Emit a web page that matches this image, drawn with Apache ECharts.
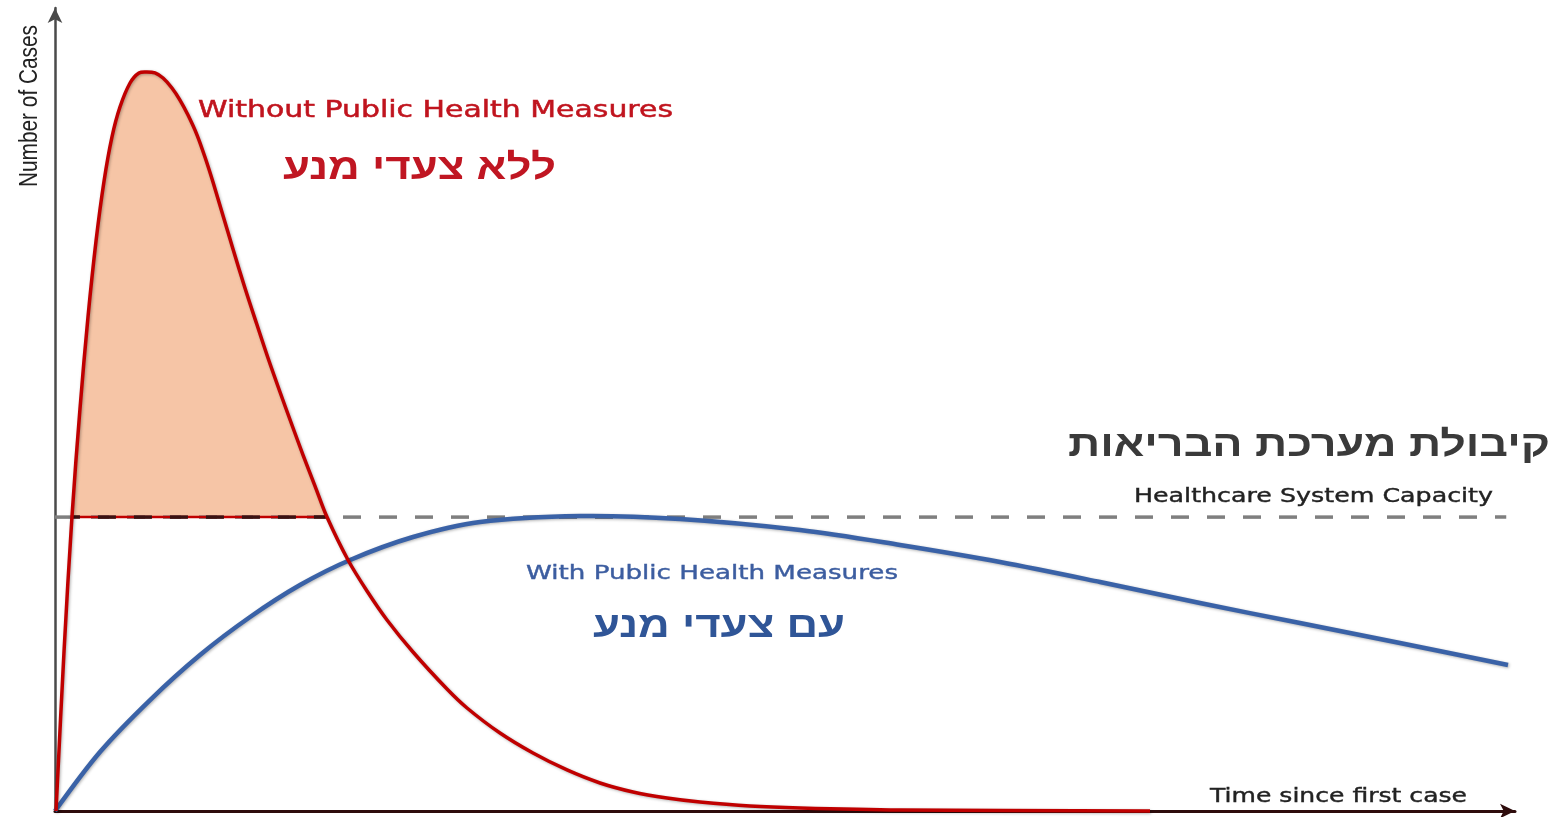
<!DOCTYPE html>
<html>
<head>
<meta charset="utf-8">
<script src="https://cdn.jsdelivr.net/npm/echarts@6/dist/echarts.min.js"></script>
<style>
  html, body { margin: 0; padding: 0; background: #fff; }
  #chart { width: 1555px; height: 817px; }
</style>
</head>
<body>
<div id="chart"></div>
<script>
// capacity level and curve values (time 0..100, cases 0..100)
var capacity = 36.6;
var capacityEnd = 99.4;

var timeRed  = [0.07, 0.62, 1.16, 1.71, 2.26, 2.81, 3.36, 3.90, 4.45, 5.14, 5.75, 6.30, 6.85, 7.40, 8.01, 8.56, 9.11, 9.73, 10.27, 10.82, 11.51, 12.19, 13.01, 13.84, 14.59, 15.41, 16.23, 16.99, 17.81, 18.63, 20.07, 21.37, 22.74, 24.52, 26.85, 28.22, 30.48, 32.74, 35.07, 37.33, 39.59, 41.92, 44.18, 47.60, 51.03, 57.88, 75.0];
var casesRed = [0, 19.93, 36.61, 50.06, 61.52, 70.98, 78.46, 83.93, 87.67, 90.66, 91.91, 92.03, 91.91, 91.28, 90.04, 88.54, 86.67, 84.18, 81.44, 78.33, 74.13, 69.99, 65.13, 60.52, 56.41, 52.18, 48.07, 44.33, 40.47, 36.61, 31.26, 27.40, 23.79, 19.80, 15.19, 12.83, 9.71, 7.22, 5.11, 3.49, 2.37, 1.62, 1.12, 0.62, 0.37, 0.12, 0];

var timeBlue  = [0, 3.08, 6.51, 9.93, 13.36, 16.78, 20.21, 24.52, 29.11, 35.96, 42.81, 51.03, 57.88, 64.73, 71.58, 78.42, 85.27, 92.12, 99.52];
var casesBlue = [0, 7.35, 13.82, 19.43, 24.16, 28.14, 31.26, 34.12, 35.99, 36.74, 36.36, 34.99, 33.13, 31.01, 28.52, 25.90, 23.41, 20.92, 18.18];

function pairs(xs, ys) {
    return xs.map(function (x, i) { return [x, ys[i]]; });
}

var redData = pairs(timeRed, casesRed);
var blueData = pairs(timeBlue, casesBlue);
// first and last red point at or above capacity -> peach fill between them
var overIdx = [];
casesRed.forEach(function (v, i) { if (v >= capacity) overIdx.push(i); });
var overFirst = overIdx[0];
var overLast = overIdx[overIdx.length - 1];

// cubic pieces through the points (catmull-rom like), points already in pixels
function controls(pts, t) {
    var n = pts.length, cin = [], cout = [];
    for (var i = 0; i < n; i++) {
        if (i === 0 || i === n - 1) { cin[i] = pts[i]; cout[i] = pts[i]; continue; }
        var p0 = pts[i - 1], p = pts[i], p1 = pts[i + 1];
        var d0 = Math.hypot(p[0] - p0[0], p[1] - p0[1]);
        var d1 = Math.hypot(p1[0] - p[0], p1[1] - p[1]);
        var vx = p1[0] - p0[0], vy = p1[1] - p0[1];
        var a = t * d0 / (d0 + d1), b = t * d1 / (d0 + d1);
        cin[i] = [p[0] - vx * a, p[1] - vy * a];
        cout[i] = [p[0] + vx * b, p[1] + vy * b];
    }
    return { cin: cin, cout: cout };
}
function curvePath(pts, from, to, cp) {
    var d = 'M' + pts[from][0] + ' ' + pts[from][1];
    for (var i = from; i < to; i++) {
        d += ' C' + cp.cout[i][0] + ' ' + cp.cout[i][1] + ' ' + cp.cin[i + 1][0] + ' ' + cp.cin[i + 1][1] + ' ' + pts[i + 1][0] + ' ' + pts[i + 1][1];
    }
    return d;
}

var shadow = { shadowColor: 'rgba(0,0,0,0.3)', shadowBlur: 3, shadowOffsetX: 1, shadowOffsetY: 1 };

function curveSeries(data, color, width, z) {
    return {
        type: 'custom', data: data, z: z, silent: true,
        renderItem: function (params, api) {
            if (params.dataIndex !== 0) return null;
            var pts = data.map(function (p) { return api.coord(p); });
            var cp = controls(pts, 0.33);
            return {
                type: 'path',
                shape: { pathData: curvePath(pts, 0, pts.length - 1, cp) },
                style: Object.assign({ fill: 'none', stroke: color, lineWidth: width, lineJoin: 'round' }, shadow)
            };
        }
    };
}

// text is stretched horizontally in the picture, so fit each label to its width
var measureCtx = document.createElement('canvas').getContext('2d');
function textWidth(text, font) {
    measureCtx.font = font;
    return measureCtx.measureText(text).width;
}
function fitText(text, font, left, right, y, color, stroke) {
    var w = textWidth(text, font);
    var style = { text: text, font: font, fill: color, align: 'left', verticalAlign: 'middle', textAlign: 'left', textVerticalAlign: 'middle' };
    if (stroke) { style.stroke = color; style.lineWidth = stroke; }
    return { type: 'text', x: left, y: y, z: 100, scaleX: (right - left) / w, style: style };
}

var latin = '"DejaVu Sans", Verdana, sans-serif';
var hebrew = '"Liberation Sans", "DejaVu Sans", sans-serif';
var yNameFont = '21px "Liberation Sans", Arial, sans-serif';
var yName = 'Number of Cases';

var myChart = echarts.init(document.getElementById('chart'));

var option = {
    backgroundColor: '#ffffff',
    animation: false,
    grid: { left: 55, right: 40, top: 8, bottom: 6, containLabel: false },
    xAxis: {
        type: 'value', min: 0, max: 100,
        axisLabel: { show: false }, axisTick: { show: false }, splitLine: { show: false },
        axisLine: {
            show: true, symbol: ['none', 'arrow'], symbolSize: [11, 15],
            lineStyle: { color: '#2e0c0c', width: 3 }
        }
    },
    yAxis: {
        type: 'value', min: 0, max: 100,
        axisLabel: { show: false }, axisTick: { show: false }, splitLine: { show: false },
        axisLine: {
            show: true, symbol: ['none', 'arrow'], symbolSize: [11, 15],
            lineStyle: { color: '#4a4a4a', width: 2.5 }
        }
    },
    series: [
        {   // peach overflow area between red curve and capacity
            type: 'custom', data: redData, z: 1, silent: true,
            renderItem: function (params, api) {
                if (params.dataIndex !== 0) return null;
                var pts = redData.map(function (p) { return api.coord(p); });
                var cp = controls(pts, 0.33);
                var d = curvePath(pts, overFirst, overLast, cp) + ' L' + pts[overFirst][0] + ' ' + pts[overFirst][1] + ' Z';
                return { type: 'path', shape: { pathData: d }, style: { fill: '#f6c5a6', stroke: 'none' } };
            }
        },
        {   // healthcare system capacity
            type: 'line', data: [[0, capacity], [capacityEnd, capacity]], symbol: 'none', z: 2,
            lineStyle: { color: '#7f7f7f', width: 3.5, type: [18, 18] }
        },
        {   // red base under the dashes inside the filled part
            type: 'line', data: [[timeRed[overFirst], capacity], [timeRed[overLast], capacity]], symbol: 'none', z: 3,
            lineStyle: { color: '#c00000', width: 2.5 }
        },
        {
            type: 'line', data: [[timeRed[overFirst], capacity], [timeRed[overLast], capacity]], symbol: 'none', z: 4,
            lineStyle: { color: '#3a1212', width: 3.5, type: [18, 18], dashOffset: 10 }
        },
        curveSeries(blueData, '#3a62a7', 4.5, 5),   // with public health measures
        curveSeries(redData, '#c00000', 3.5, 6)      // without public health measures
    ],
    graphic: [
        {
            type: 'text', x: 30, y: 106, z: 100,
            rotation: Math.PI / 2,
            scaleX: 162 / textWidth(yName, yNameFont), scaleY: 1.27,
            style: { text: yName, font: yNameFont, fill: '#222', align: 'center', verticalAlign: 'middle', textAlign: 'center', textVerticalAlign: 'middle' }
        },
        fitText('Without Public Health Measures', '23px ' + latin, 198, 673, 111, '#c0141e', 0.5),
        fitText('ללא צעדי מנע', 'bold 36px ' + hebrew, 283, 556, 169, '#c01622'),
        fitText('קיבולת מערכת הבריאות', 'bold 36px ' + hebrew, 1068, 1550, 446, '#3a3a3a'),
        fitText('Healthcare System Capacity', '20px ' + latin, 1134, 1493, 497, '#222222', 0.4),
        fitText('With Public Health Measures', '20px ' + latin, 526, 898, 574, '#3c5da0', 0.4),
        fitText('עם צעדי מנע', 'bold 36px ' + hebrew, 593, 845, 627, '#2f5597'),
        fitText('Time since first case', '20px ' + latin, 1210, 1467, 797, '#222222', 0.4)
    ]
};

myChart.setOption(option);
window.addEventListener('resize', function () { myChart.resize(); });
</script>
</body>
</html>
